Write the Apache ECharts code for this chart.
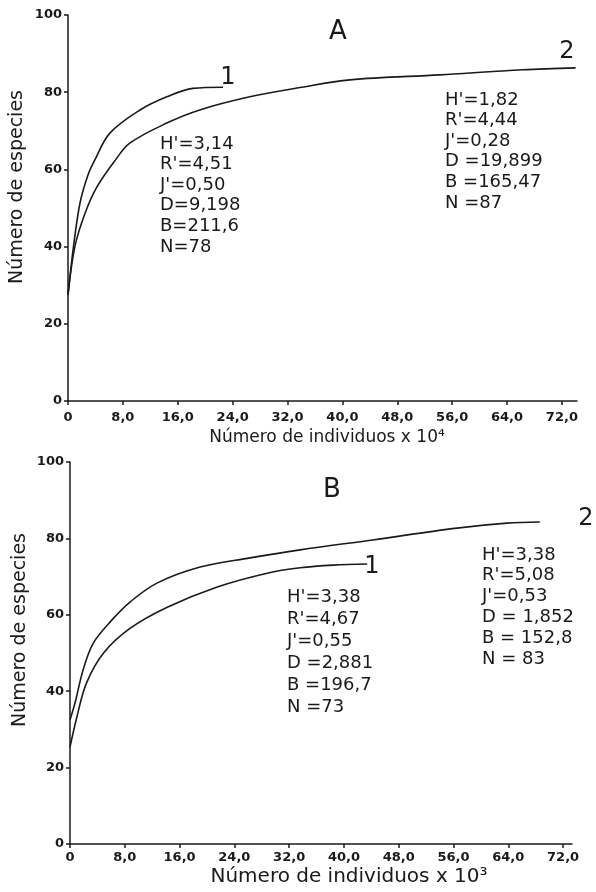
<!DOCTYPE html>
<html>
<head>
<meta charset="utf-8">
<script src="https://cdn.jsdelivr.net/npm/echarts@6/dist/echarts.min.js"></script>
<style>
  html, body { margin: 0; padding: 0; background: #fff; }
  #main { width: 596px; height: 892px; }
</style>
</head>
<body>
<div id="main"></div>
<script>
// valores (x en unidades del eje, y = numero de especies)
var xTicks = [0, 8, 16, 24, 32, 40, 48, 56, 64, 72];
var yTicks = [0, 20, 40, 60, 80, 100];

// Grafico A
var a1X = [0, 0.8, 1.75, 2.9, 3.9, 6.1, 10.5, 14.4, 18.2, 22.6];
var a1Y = [27.5, 40, 51.3, 58.5, 62.4, 69.4, 75.4, 78.8, 81, 81.3];
var a2X = [0, 1.0, 2.5, 4.2, 6.9, 9.0, 14.4, 19.2, 26.5, 33.8, 41.1, 54.2, 66.3, 74];
var a2Y = [27.5, 40, 48.7, 55.4, 62.4, 66.8, 72, 75.4, 78.8, 81.2, 83.2, 84.5, 85.8, 86.3];

// Grafico B
var b1X = [0, 1, 2.4, 4.9, 8.8, 14.2, 21.5, 28.8, 33.6, 38.4, 43.4];
var b1Y = [25.4, 33.2, 42.1, 50, 56.5, 62, 67.3, 70.9, 72.3, 73, 73.3];
var b2X = [0, 0.73, 1.9, 3.4, 6.1, 8.8, 12.7, 19, 26.3, 33.6, 44.2, 56.5, 63.8, 68.6];
var b2Y = [32.5, 36.9, 45.5, 52.6, 58.6, 63.4, 68.3, 72.5, 74.9, 77, 79.6, 82.7, 84, 84.3];

var statsA1 = ["H'=3,14", "R'=4,51", "J'=0,50", "D=9,198", "B=211,6", "N=78"];
var statsA2 = ["H'=1,82", "R'=4,44", "J'=0,28", "D =19,899", "B =165,47", "N =87"];
var statsB1 = ["H'=3,38", "R'=4,67", "J'=0,55", "D =2,881", "B =196,7", "N =73"];
var statsB2 = ["H'=3,38", "R'=5,08", "J'=0,53", "D = 1,852", "B = 152,8", "N = 83"];

var ink = '#1a1a1a';
var fam = '"DejaVu Sans", sans-serif';

function pairs(xs, ys) {
    var out = [];
    for (var i = 0; i < xs.length; i++) out.push([xs[i], ys[i]]);
    return out;
}

function xAxisFor(idx, max, margin) {
    return {
        type: 'value', gridIndex: idx, min: 0, max: max,
        axisLine: { show: true, onZero: false, lineStyle: { color: ink, width: 1.5 } },
        axisTick: { show: true, length: 4, customValues: xTicks, lineStyle: { color: ink, width: 1.5 } },
        axisLabel: {
            customValues: xTicks, margin: margin, color: ink,
            fontFamily: fam, fontSize: 13, fontWeight: 'bold',
            formatter: function (v) { return v === 0 ? '0' : v.toFixed(1).replace('.', ','); }
        },
        splitLine: { show: false }
    };
}

function yAxisFor(idx) {
    return {
        type: 'value', gridIndex: idx, min: 0, max: 100, interval: 20,
        axisLine: { show: true, lineStyle: { color: ink, width: 1.5 } },
        axisTick: { show: true, length: 4, lineStyle: { color: ink, width: 1.5 } },
        axisLabel: { margin: 6, color: ink, fontFamily: fam, fontSize: 13, fontWeight: 'bold' },
        splitLine: { show: false }
    };
}

function curve(idx, xs, ys) {
    return {
        type: 'line', xAxisIndex: idx, yAxisIndex: idx,
        data: pairs(xs, ys), showSymbol: false, symbol: 'none',
        smooth: 0.35,
        lineStyle: { color: ink, width: 1.6 }, silent: true
    };
}

function label(text, x, y, size, align) {
    return {
        type: 'text', x: x, y: y, silent: true,
        style: {
            text: text, fill: ink, font: size + 'px ' + fam,
            textAlign: align || 'center', textVerticalAlign: 'middle',
            align: align || 'center', verticalAlign: 'middle'
        }
    };
}

function block(lines, x, yFirst, step) {
    return {
        type: 'text', x: x, y: yFirst - step / 2, silent: true,
        style: {
            text: lines.join('\n'), fill: ink, font: '18px ' + fam,
            lineHeight: step, textAlign: 'left', textVerticalAlign: 'top',
            align: 'left', verticalAlign: 'top'
        }
    };
}

function yName(x, y) {
    var t = label('Número de especies', x, y, 19);
    t.rotation = Math.PI / 2;
    return t;
}

var myChart = echarts.init(document.getElementById('main'));
myChart.setOption({
    animation: false,
    backgroundColor: '#fff',
    grid: [
        { left: 68, top: 15, width: 509, height: 386 },
        { left: 70, top: 462, width: 502, height: 382 }
    ],
    xAxis: [xAxisFor(0, 74.2, 10), xAxisFor(1, 73.3, 7)],
    yAxis: [yAxisFor(0), yAxisFor(1)],
    series: [
        curve(0, a1X, a1Y),
        curve(0, a2X, a2Y),
        curve(1, b1X, b1Y),
        curve(1, b2X, b2Y)
    ],
    graphic: [
        yName(17, 187),
        yName(20, 630),
        label('Número de individuos x 10⁴', 327, 438, 17),
        label('Número de individuos x 10³', 349, 877, 20),
        label('A', 338, 32, 26),
        label('2', 567, 52, 24),
        label('1', 228, 78, 24),
        label('B', 332, 490, 26),
        label('2', 586, 519, 24),
        label('1', 372, 567, 24),
        block(statsA1, 160, 144, 20.6),
        block(statsA2, 445, 100, 20.6),
        block(statsB1, 287, 597, 22),
        block(statsB2, 482, 555, 20.8)
    ]
});
</script>
</body>
</html>
